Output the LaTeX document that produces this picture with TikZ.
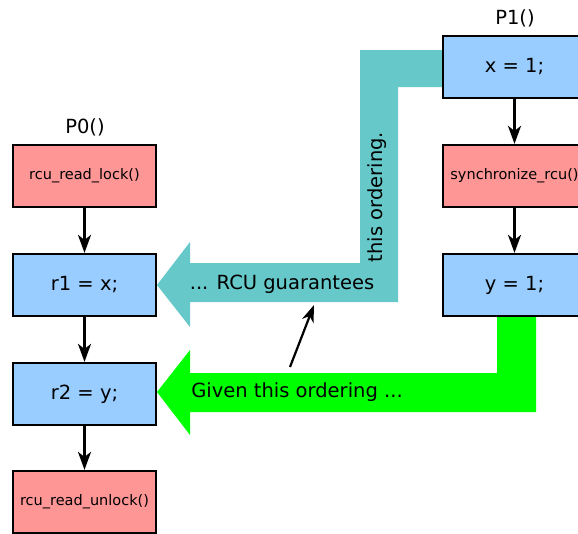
\documentclass[tikz,border=0pt]{standalone}
\usepackage{fontspec}
\setmainfont{DejaVu Sans}
\usetikzlibrary{arrows.meta,calc,positioning}
\definecolor{rcupink}{RGB}{255,150,150}
\definecolor{rcublue}{RGB}{153,204,255}
\definecolor{rcuteal}{RGB}{102,200,200}
\definecolor{rcugreen}{RGB}{0,255,0}
\tikzset{
 stmt/.style={draw=black,line width=2.2pt,minimum width=143pt,minimum height=62pt,inner sep=0pt,font=\fontsize{19.5}{22}\selectfont},
 crit/.style={stmt,fill=rcupink,font=\fontsize{14.5}{17}\selectfont},
 plain/.style={stmt,fill=rcublue},
 big/.style={font=\fontsize{19.5}{22}\selectfont},
 flow/.style={line width=2.4pt,-{Stealth[length=18pt,width=13pt,inset=5pt]}}
}

\begin{document}
\begin{tikzpicture}[x=1pt,y=-1pt]
 \useasboundingbox(0,0)rectangle(578,533);
 \clip(0,0)rectangle(578,533);
 % big arrows first, boxes go on top
 \fill[rcuteal](450,50)--(360,50)--(360,263)--(190,263)--(190,242)--(157,285)--(190,327)--(190,302)--(398,302)--(398,87)--(450,87)--cycle;
 \fill[rcugreen](497,310)--(497,373)--(190,373)--(190,350)--(157,392)--(190,435)--(190,412)--(536,412)--(536,310)--cycle;
 % P0 side
 \node[big](pzero)at(85,127){P0()};
 \node[crit](lock)at(84.5,176){rcu\_read\_lock()};
 \node[plain](rone)at(84.5,285){r1 = x;};
 \node[plain](rtwo)at(84.5,394){r2 = y;};
 \node[crit](unlock)at(84.5,502){rcu\_read\_unlock()};
 \draw[flow](lock)--(rone);
 \draw[flow](rone)--(rtwo);
 \draw[flow](rtwo)--(unlock);
 % P1 side
 \node[big](pone)at(515,18){P1()};
 \node[plain](setx)at(514.5,67){x = 1;};
 \node[crit](sync)at(514.5,176){synchronize\_rcu()};
 \node[plain](sety)at(514.5,285){y = 1;};
 \draw[flow](setx)--(sync);
 \draw[flow](sync)--(sety);
 % labels on the arrows
 \node[big](guar)at(282,284){... RCU guarantees};
 \node[big,rotate=90](thisord)at(377,197){this ordering.};
 \node[big](given)at(297,392){Given this ordering ...};
 \coordinate(from)at(290,367);
 \coordinate(to)at(314,305);
 \draw[flow,line width=2.2pt,-{Stealth[length=17pt,width=12pt,inset=5pt]}](from)--(to);
\end{tikzpicture}
\end{document}
